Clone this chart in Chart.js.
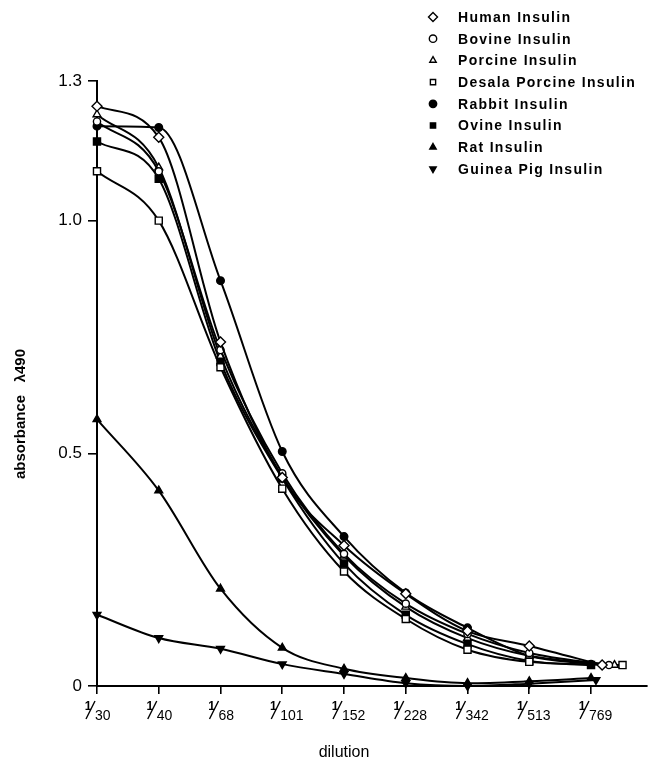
<!DOCTYPE html>
<html><head><meta charset="utf-8">
<script src="https://cdn.jsdelivr.net/npm/chart.js@4.4.1/dist/chart.umd.min.js"></script>
<style>html,body{margin:0;padding:0;background:#fff}#wrap{width:653px;height:760px}</style>
</head><body><div id="wrap"><canvas id="c" width="653" height="760"></canvas></div>
<script>
'use strict';

/* ═══════════ DATA ═══════════ */
var dilutions=['30','40','68','101','152','228','342','513','769'];
var yTicks=[0,0.5,1.0,1.3];
var human  =[1.246,1.179,0.739,0.448,0.302,0.198,0.118,0.086,0.045];
var bovine =[1.213,1.106,0.722,0.457,0.284,0.177,0.112,0.071,0.045];
var porcine=[1.228,1.114,0.709,0.450,0.280,0.170,0.103,0.065,0.045];
var desala =[1.106,1.000,0.685,0.424,0.246,0.144,0.078,0.052,0.045];
var rabbit =[1.203,1.200,0.871,0.504,0.321,0.200,0.125,0.065,0.047];
var ovine  =[1.170,1.090,0.696,0.446,0.263,0.153,0.090,0.054,0.045];
var rat    =[0.573,0.420,0.209,0.082,0.037,0.017,0.006,0.010,0.017];
var guinea =[0.153,0.103,0.080,0.047,0.026,0.006,0.000,0.005,0.013];
/* points at 1/769 were plotted side by side in the original */
var lastX  ={human:8.18,bovine:8.29,porcine:8.38,desala:8.51,rabbit:8,ovine:8,rat:8,guinea:8.08};

function pts(vals,key){return vals.map(function(v,i){return{x:i===8?lastX[key]:i,y:v}})}
function ds(label,vals,key,style,filled,r,rot){
  return{label:label,data:pts(vals,key),borderColor:'#000',borderWidth:2,
    pointStyle:style,pointRadius:r,pointRotation:rot||0,pointBackgroundColor:filled?'#000':'#fff',
    pointBorderColor:'#000',pointBorderWidth:1.4,cubicInterpolationMode:'monotone',clip:false,fill:false}}

var FONT='"Liberation Sans", Arial, Helvetica, sans-serif';

/* ═══════════ DECOR PLUGIN ═══════════ */
var decor={id:'decor',afterDraw:function(ch){
  var c=ch.ctx,xs=ch.scales.x;
  c.save();c.fillStyle='#000';c.strokeStyle='#000';
  /* fraction tick labels */
  dilutions.forEach(function(d,i){var x=xs.getPixelForValue(i);
    c.font='bold 12px '+FONT;c.textAlign='center';c.textBaseline='alphabetic';c.fillText('1',x-9,710);
    c.lineWidth=1.4;c.beginPath();c.moveTo(x-11,719);c.lineTo(x-2,701);c.stroke();
    c.font='14px '+FONT;c.textAlign='left';c.fillText(d,x-2,720)});
  /* axis titles */
  c.font='16px '+FONT;c.textAlign='center';
  c.fillText('dilution',(xs.getPixelForValue(0)+xs.getPixelForValue(8))/2,757);
  c.save();c.translate(21,414);c.rotate(-Math.PI/2);c.font='bold 15px '+FONT;c.textBaseline='middle';
  c.fillText('absorbance   \u03bb490',0,0);c.restore();
  /* legend */
  c.font='bold 14px '+FONT;c.textAlign='left';c.textBaseline='middle';
  if('letterSpacing' in c)c.letterSpacing='1.3px';
  ch.data.datasets.forEach(function(s,i){var y=17+i*21.7;
    c.fillStyle=s.pointBackgroundColor;c.strokeStyle='#000';c.lineWidth=1.4;
    Chart.helpers.drawPoint(c,{pointStyle:s.pointStyle,radius:s.pointStyle==='rectRot'?4.5:3.7,rotation:s.pointRotation,borderWidth:1.4},433,y);
    c.fillStyle='#000';c.fillText(s.label,458,y+1)});
  c.restore()}};

/* ═══════════ CHART ═══════════ */
new Chart(document.getElementById('c'),{type:'line',
  data:{datasets:[
    ds('Human Insulin',human,'human','rectRot',false,5),
    ds('Bovine Insulin',bovine,'bovine','circle',false,3.6),
    ds('Porcine Insulin',porcine,'porcine','triangle',false,4.5),
    ds('Desala Porcine Insulin',desala,'desala','rect',false,5),
    ds('Rabbit Insulin',rabbit,'rabbit','circle',true,3.8),
    ds('Ovine Insulin',ovine,'ovine','rect',true,5),
    ds('Rat Insulin',rat,'rat','triangle',true,4.5),
    ds('Guinea Pig Insulin',guinea,'guinea','triangle',true,4.5,180)]},
  options:{responsive:false,animation:false,devicePixelRatio:1,
    layout:{padding:{top:81,left:0,right:0,bottom:0}},
    plugins:{legend:{display:false},tooltip:{enabled:false}},
    scales:{
      x:{type:'linear',min:0,max:8.9,
        afterBuildTicks:function(s){s.ticks=dilutions.map(function(_,i){return{value:i}})},
        afterFit:function(s){s.height=74},
        ticks:{display:false},
        grid:{drawOnChartArea:false,drawTicks:true,tickLength:8,color:'#000',lineWidth:1.6},
        border:{display:true,color:'#000',width:2}},
      y:{type:'linear',min:0,max:1.3,
        afterBuildTicks:function(s){s.ticks=yTicks.map(function(v){return{value:v}})},
        afterFit:function(s){s.width=97},
        ticks:{color:'#000',padding:6,font:{family:FONT,size:17},
          callback:function(v){return v===0?'0':v.toFixed(1)}},
        grid:{drawOnChartArea:false,drawTicks:true,tickLength:9,color:'#000',lineWidth:1.6},
        border:{display:true,color:'#000',width:2}}}},
  plugins:[decor]});
</script></body></html>
